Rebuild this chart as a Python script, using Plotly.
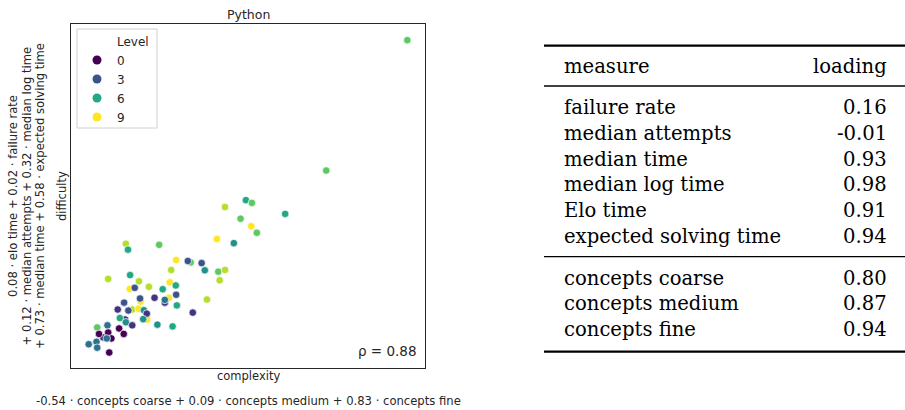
import plotly.graph_objects as go

# ---- data ----
complexity = [9.1, 15.3, 17.3, 21.5, 19.7, 26.5, 33.8,
              49.4, 51.1, 43.5, 60.5, 47.9, 50.9, 52.5, 41.2, 46.0, 15.5, 24.9, 16.1,
              29.7, 33.0, 36.9, 28.3, 37.8, 41.6, 43.5, 10.5, 16.7, 19.2, 42.0, 27.9,
              22.0, 16.6, 18.0, 25.9, 29.6, 29.7, 27.7, 23.6, 19.5, 26.5, 15.0, 38.4,
              29.9, 13.2, 16.2, 19.1, 20.6, 21.4, 34.4, 13.8, 15.5, 17.3, 20.4, 24.4,
              28.7, 7.4, 10.3, 13.6, 14.9, 7.9, 10.5, 11.4, 10.1, 5.0, 7.2, 7.4, 10.8,
              95.0, 72.1]
difficulty = [8.9, 14.1, 17.0, 14.0, 19.3, 19.0, 30.7,
              48.8, 48.0, 46.8, 44.8, 43.4, 41.2, 39.3, 37.5, 36.3, 36.1, 35.8, 34.4,
              31.4, 31.1, 30.5, 28.5, 28.4, 28.0, 28.5, 25.9, 27.0, 25.2, 25.5, 24.9,
              23.6, 23.0, 23.3, 22.9, 24.0, 21.3, 20.4, 20.4, 20.2, 19.8, 19.0, 19.9,
              18.2, 17.0, 16.7, 17.2, 16.8, 15.8, 16.1, 14.5, 13.3, 12.4, 14.2, 12.6,
              12.1, 11.8, 12.4, 11.5, 9.9, 9.9, 10.3, 8.6, 8.6, 6.9, 7.6, 5.9, 4.5,
              95.3, 57.4]
level = [1, 1, 8, 9, 9, 1, 7,
         6, 7, 8, 6, 7, 9, 7, 9, 5, 8, 7, 6,
         9, 3, 3, 8, 5, 7, 8, 8, 6, 8, 8, 9,
         8, 9, 3, 6, 6, 3, 9, 1, 3, 4, 3, 8,
         6, 1, 3, 9, 5, 1, 1, 6, 5, 1, 5, 5,
         6, 7, 4, 0, 0, 0, 0, 0, 4, 4, 4, 4, 0,
         7, 7]
legend_levels = [0, 3, 6, 9]
level_colors = ["#440154", "#46327e", "#414487", "#3b528b", "#2c728e",
                "#21918c", "#22a884", "#5ec962", "#b5de2b", "#fde725"]

measures = ["failure rate", "median attempts", "median time",
            "median log time", "Elo time", "expected solving time"]
measure_loadings = ["0.16", "-0.01", "0.93", "0.98", "0.91", "0.94"]
concepts = ["concepts coarse", "concepts medium", "concepts fine"]
concept_loadings = ["0.80", "0.87", "0.94"]

title_text = "Python"
x_label = "complexity"
y_label = "difficulty"
x_formula = "-0.54 · concepts coarse + 0.09 · concepts medium + 0.83 · concepts fine"
y_formula = ["0.08 · elo time + 0.02 · failure rate",
             "+ 0.12 · median attempts + 0.32 · median log time",
             "+ 0.73 · median time + 0.58 · expected solving time"]
rho_text = "ρ = 0.88"

# ---- layout helpers (pixel -> paper) ----
L, R, T, B = 71, 425, 24, 368
W, H = 905, 410


def px(x):
    return (x - L) / (R - L)


def py(y):
    return (B - y) / (B - T)


SANS = "DejaVu Sans"
SERIF = "DejaVu Serif"
INK = "#262626"
nmax = len(level_colors) - 1
cscale = [[i / nmax, c] for i, c in enumerate(level_colors)]

fig = go.Figure()

fig.add_trace(go.Scatter(
    x=complexity, y=difficulty, mode="markers", showlegend=False,
    marker=dict(size=7.5, color=level, colorscale=cscale, cmin=0, cmax=nmax,
                line=dict(color="white", width=0.7)),
    hoverinfo="skip"))

# legend entries
fig.add_trace(go.Scatter(x=[None], y=[None], mode="markers", name="Level",
                         marker=dict(size=9, color="rgba(0,0,0,0)")))
for lv in legend_levels:
    fig.add_trace(go.Scatter(x=[None], y=[None], mode="markers", name=str(lv),
                             marker=dict(size=9, color=level_colors[lv])))

ann = []
ann.append(dict(x=px(248), y=py(15), text=title_text, font=dict(size=12.5, color=INK, family=SANS)))
ann.append(dict(x=px(248), y=py(376), text=x_label, font=dict(size=11.5, color=INK, family=SANS)))
ann.append(dict(x=px(62), y=py(196), text=y_label, textangle=-90, font=dict(size=11.5, color=INK, family=SANS)))
ann.append(dict(x=px(248), y=py(401), text=x_formula, font=dict(size=11.6, color=INK, family=SANS)))
for i, line in enumerate(y_formula):
    ann.append(dict(x=px(13 + 13.5 * i), y=py(196), text=line, textangle=-90,
                    font=dict(size=11.6, color=INK, family=SANS)))
ann.append(dict(x=px(419), y=py(351), text=rho_text, xanchor="right",
                font=dict(size=13.5, color=INK, family=SANS)))

# table
TL, TR = 562, 889
tf = dict(size=19.6, color="black", family=SERIF)
ann.append(dict(x=px(TL), y=py(66), text="measure", xanchor="left", font=tf))
ann.append(dict(x=px(TR), y=py(66), text="loading", xanchor="right", font=tf))
for i, (m, v) in enumerate(zip(measures, measure_loadings)):
    yy = 107.5 + 25.8 * i
    ann.append(dict(x=px(TL), y=py(yy), text=m, xanchor="left", font=tf))
    ann.append(dict(x=px(TR), y=py(yy), text=v, xanchor="right", font=tf))
for i, (m, v) in enumerate(zip(concepts, concept_loadings)):
    yy = 278 + 25.8 * i
    ann.append(dict(x=px(TL), y=py(yy), text=m, xanchor="left", font=tf))
    ann.append(dict(x=px(TR), y=py(yy), text=v, xanchor="right", font=tf))

for a in ann:
    a.setdefault("xanchor", "center")
    a.update(xref="paper", yref="paper", yanchor="middle", showarrow=False)

shapes = []
for yy, w in [(45.7, 2.2), (86, 1.3), (256.7, 1.3), (351.7, 2.2)]:
    shapes.append(dict(type="line", xref="paper", yref="paper",
                       x0=px(544), x1=px(905), y0=py(yy), y1=py(yy),
                       line=dict(color="black", width=w)))
# legend frame
shapes.append(dict(type="rect", xref="paper", yref="paper", layer="below",
                   x0=px(77), x1=px(157), y0=py(128), y1=py(29),
                   fillcolor="white", line=dict(color="#d0d0d0", width=1)))

axis_common = dict(showticklabels=False, showgrid=False, zeroline=False,
                   showline=True, mirror=True, linecolor=INK, linewidth=1.3,
                   ticks="", range=[0, 100], fixedrange=True)

fig.update_layout(
    width=W, height=H, autosize=False,
    margin=dict(l=L, r=W - R, t=T, b=H - B, pad=0),
    paper_bgcolor="white", plot_bgcolor="white",
    xaxis=axis_common, yaxis=axis_common,
    annotations=ann, shapes=shapes,
    legend=dict(x=px(77), y=py(26.5), xanchor="left", yanchor="top",
                bgcolor="rgba(0,0,0,0)", borderwidth=0,
                font=dict(size=12, color=INK, family=SANS),
                itemwidth=30, tracegroupgap=0),
    font=dict(family=SANS, color=INK),
)

fig.write_html("out.html", config={"displayModeBar": False},
               post_script="document.body.style.margin='0px';document.body.style.overflow='hidden';")
